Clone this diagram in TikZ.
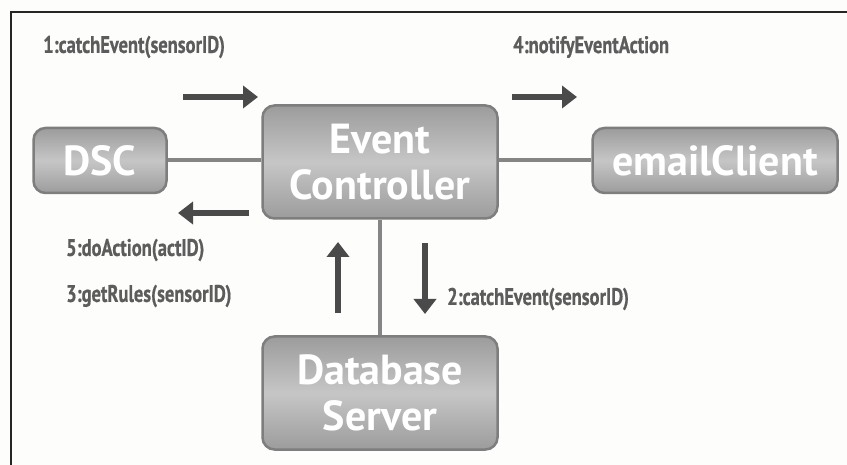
\documentclass[tikz,border=0pt]{standalone}
\usepackage{fontspec}
\setmainfont{PT Sans}
\newfontfamily\msgfont[FakeStretch=0.77,FakeBold=0.6]{PT Sans}
\usepackage{tikz}
\usetikzlibrary{arrows.meta,positioning}

\definecolor{boxedge}{HTML}{7E7E7E}
\definecolor{boxtop}{HTML}{9C9C9C}
\definecolor{boxmid}{HTML}{C6C6C6}
\definecolor{linkgray}{HTML}{858585}
\definecolor{flowgray}{HTML}{4A4A4A}
\definecolor{msggray}{HTML}{5C5C5C}
\definecolor{paper}{HTML}{FDFDFB}

\begin{document}
\begin{tikzpicture}[x=1pt,y=-1pt,
  box/.style={draw=boxedge,line width=2.5pt,rounded corners=12pt,
    top color=boxtop,bottom color=boxtop,middle color=boxmid,
    text=white,font=\fontsize{42}{46}\selectfont\bfseries,align=center,inner sep=0pt},
  smallbox/.style={box,minimum height=65pt},
  bigbox/.style={box,minimum width=235pt,minimum height=113pt},
  link/.style={draw=linkgray,line width=4pt},
  flow/.style={draw=flowgray,line width=6pt,-{Triangle[width=22pt,length=15pt]}},
  msg/.style={text=msggray,font=\msgfont\fontsize{24}{26}\selectfont\bfseries,anchor=west,inner sep=0pt}]

  % page and frame
  \fill[paper] (0,0) rectangle (847,465);
  \useasboundingbox (0,0) rectangle (847,465);
  \draw[line width=2pt,black!85] (847,12) -- (10.5,12) -- (10.5,465);

  % the four parts
  \node[bigbox]                       (ec)    at (380,162)   {Event\\Controller};
  \node[smallbox,minimum width=133pt] (dsc)   at (100,160.5) {DSC};
  \node[smallbox,minimum width=245pt] (email) at (715,160.5) {emailClient};
  \node[bigbox]                       (db)    at (380,393)   {Database\\Server};

  % links between the borders
  \path[link]
     (dsc.east) -- (ec.west |- dsc.east)
     (ec.east |- email.west) -- (email.west)
     (ec.south) -- (db.north);

  % message arrows
  \coordinate (m1a) at (183,97);  \coordinate (m1b) at (258,97);
  \coordinate (m4a) at (512,97);  \coordinate (m4b) at (577,97);
  \coordinate (m5a) at (249,213); \coordinate (m5b) at (178,213);
  \coordinate (m3a) at (338,313); \coordinate (m3b) at (338,242);
  \coordinate (m2a) at (425,243); \coordinate (m2b) at (425,314);
  \draw[flow] (m1a) -- (m1b);
  \draw[flow] (m4a) -- (m4b);
  \draw[flow] (m5a) -- (m5b);
  \draw[flow] (m3a) -- (m3b);
  \draw[flow] (m2a) -- (m2b);

  % message texts
  \node[msg] (t1) at (43,47)   {1:catchEvent(sensorID)};
  \node[msg] (t4) at (513,47)  {4:notifyEventAction};
  \node[msg] (t5) at (66,250)  {5:doAction(actID)};
  \node[msg] (t3) at (66,296)  {3:getRules(sensorID)};
  \node[msg] (t2) at (447,299) {2:catchEvent(sensorID)};
\end{tikzpicture}
\end{document}
